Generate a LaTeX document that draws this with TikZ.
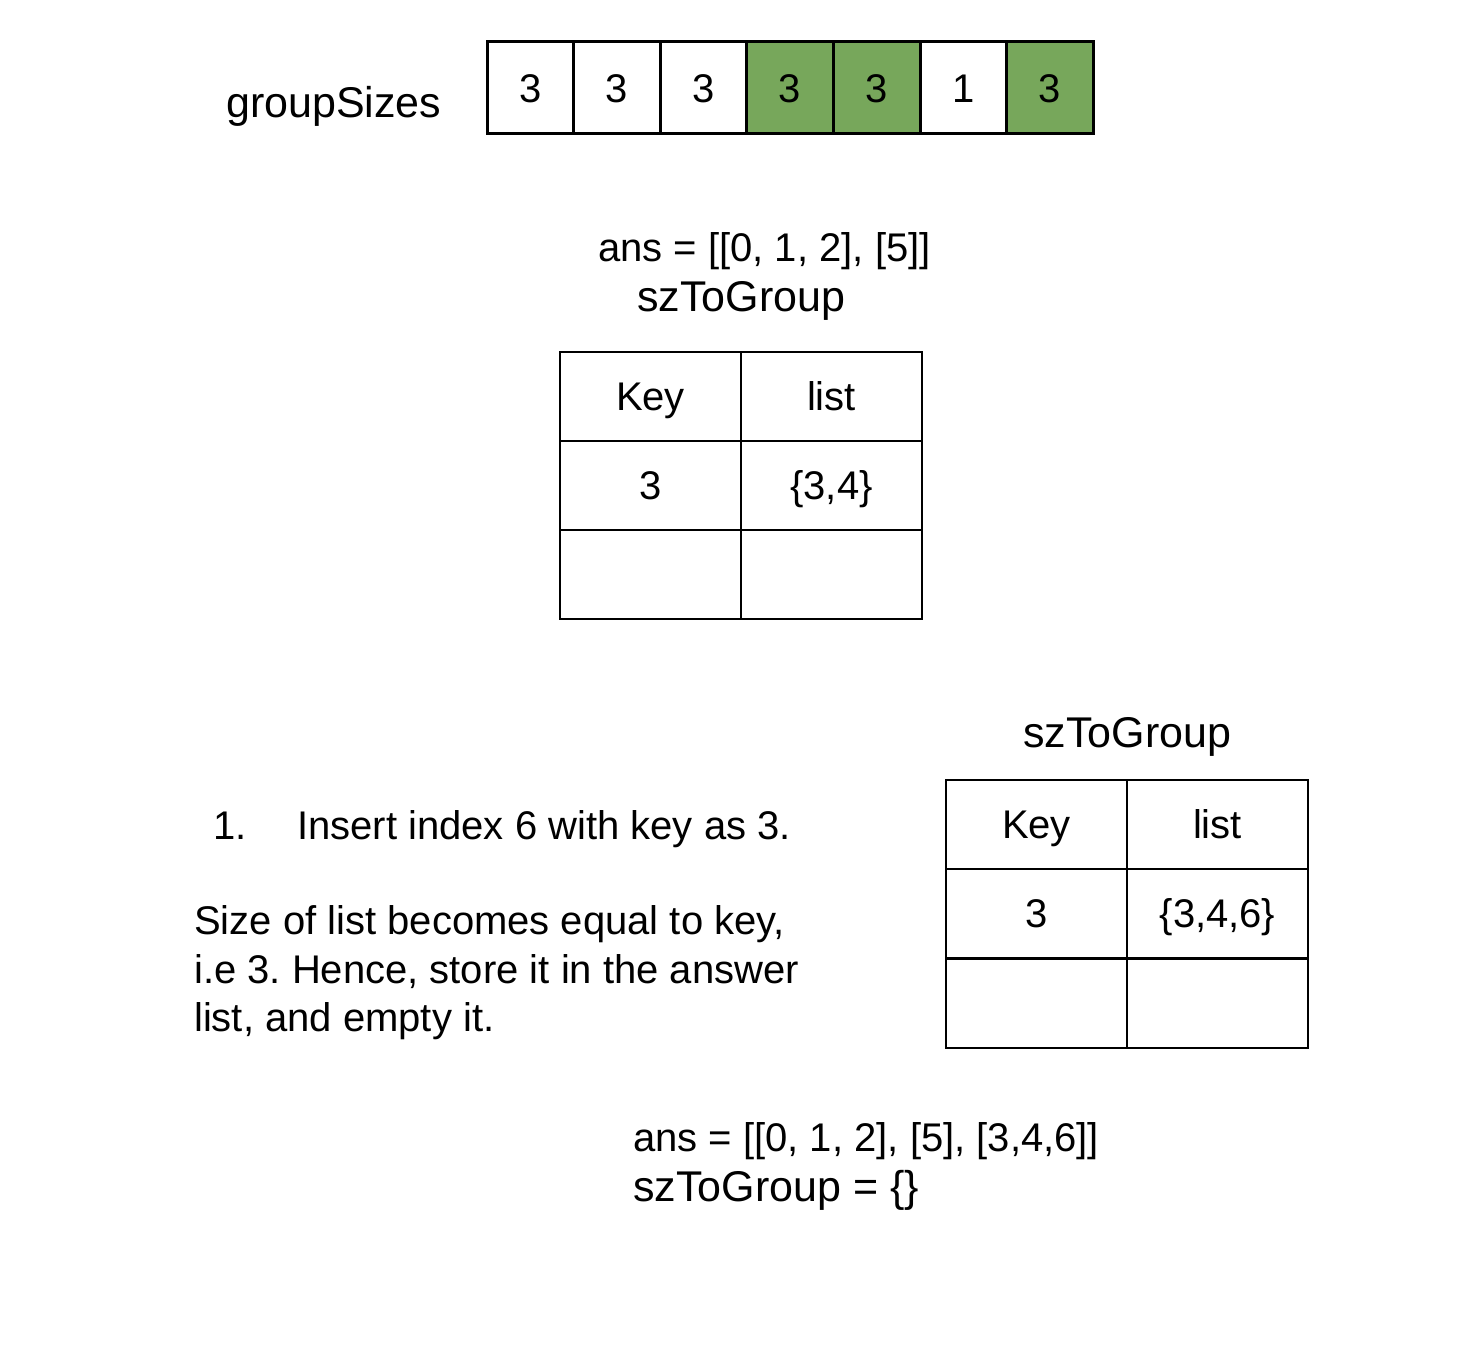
\documentclass[tikz,border=0pt]{standalone}
\usepackage{fontspec}
\setmainfont{Liberation Sans}
\frenchspacing
\definecolor{cellgreen}{RGB}{119,167,91}
\begin{document}
\begin{tikzpicture}[x=1pt,y=-1pt,
  txt/.style={inner sep=0pt,font=\fontsize{40}{48}\selectfont\frenchspacing},
  big/.style={inner sep=0pt,font=\fontsize{43}{50}\selectfont\frenchspacing},
  arr/.style={draw,line width=3pt,minimum width=86.6pt,minimum height=92pt,inner sep=0pt,text height=28.6pt,text depth=0pt,font=\fontsize{40}{48}\selectfont},
  tcell/.style={draw,line width=1.5pt,minimum width=181pt,minimum height=89pt,inner sep=0pt,text height=28.6pt,text depth=0pt,font=\fontsize{40}{48}\selectfont}]
\useasboundingbox (0,0) rectangle (1478,1362);
% array
\node[big,anchor=base west] (gs) at (226,118) {groupSizes};
\foreach \i/\v/\g in {0/3/white,1/3/white,2/3/white,3/3/cellgreen,4/3/cellgreen,5/1/white,6/3/cellgreen}{
  \node[arr,fill=\g] (a\i) at ({487+86.6*\i+43.3},88) {\v};
}
% first state
\node[txt,anchor=base west] (ans1) at (598,261) {ans = [[0, 1, 2], [5]]};
\node[big,anchor=base west] (sz1) at (637,311) {szToGroup};
\node[tcell] (t1k0) at (650.5,396.5) {Key};
\node[tcell] (t1l0) at (831.5,396.5) {list};
\node[tcell] (t1k1) at (650.5,485.5) {3};
\node[tcell] (t1l1) at (831.5,485.5) {\{3,4\}};
\node[tcell] (t1k2) at (650.5,574.5) {};
\node[tcell] (t1l2) at (831.5,574.5) {};
% second state
\node[big,anchor=base west] (sz2) at (1023,747) {szToGroup};
\node[tcell] (t2k0) at (1036.5,824.5) {Key};
\node[tcell] (t2l0) at (1217.5,824.5) {list};
\node[tcell] (t2k1) at (1036.5,913.5) {3};
\node[tcell] (t2l1) at (1217.5,913.5) {\{3,4,6\}};
\node[tcell] (t2k2) at (1036.5,1003.5) {};
\node[tcell] (t2l2) at (1217.5,1003.5) {};
% explanation
\node[txt,anchor=base west] (n1) at (213,839) {1.};
\node[txt,anchor=base west] (ins) at (297,839) {Insert index 6 with key as 3.};
\node[txt,anchor=base west] (p1) at (194,934) {Size of list becomes equal to key,};
\node[txt,anchor=base west] (p2) at (194,983) {i.e 3. Hence, store it in the answer};
\node[txt,anchor=base west] (p3) at (194,1031) {list, and empty it.};
% results
\node[txt,anchor=base west] (ans2) at (633,1151) {ans = [[0, 1, 2], [5], [3,4,6]]};
\node[big,anchor=base west] (sz3) at (633,1201) {szToGroup = \{\}};
\end{tikzpicture}
\end{document}
